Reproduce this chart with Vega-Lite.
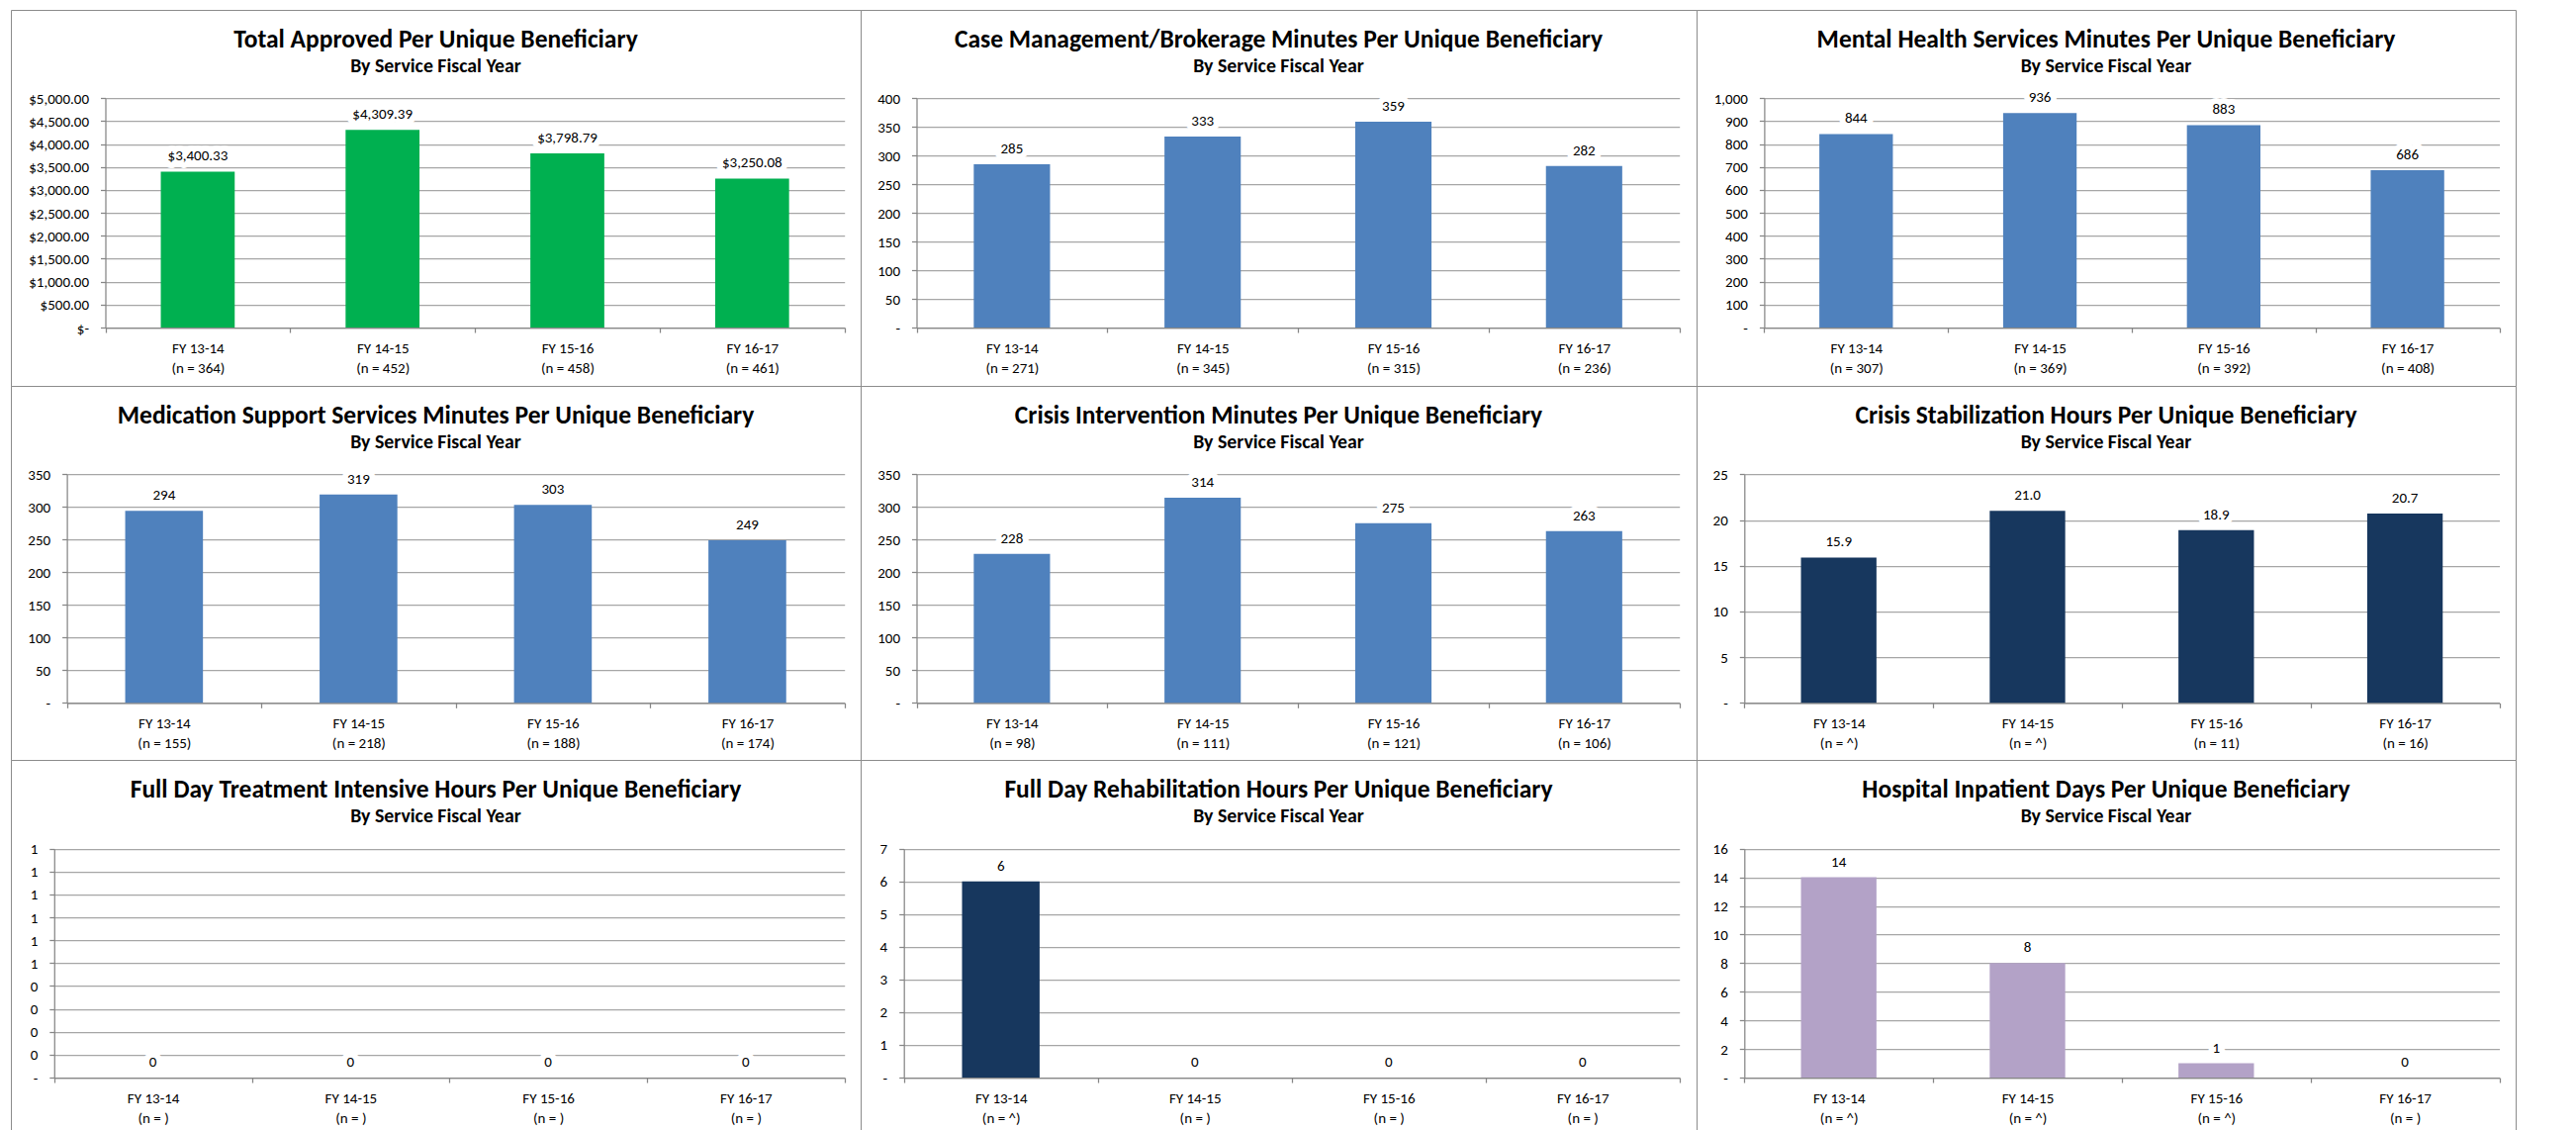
{
  "$schema": "https://vega.github.io/schema/vega-lite/v6.json",
  "padding": {"left": 10, "top": 9, "right": 0, "bottom": 0},
  "background": "white",
  "datasets": {
    "p1": [
      {"label": "FY 13-14\n(n = 364)", "value": 3400.33},
      {"label": "FY 14-15\n(n = 452)", "value": 4309.39},
      {"label": "FY 15-16\n(n = 458)", "value": 3798.79},
      {"label": "FY 16-17\n(n = 461)", "value": 3250.08}
    ],
    "p2": [
      {"label": "FY 13-14\n(n = 271)", "value": 285},
      {"label": "FY 14-15\n(n = 345)", "value": 333},
      {"label": "FY 15-16\n(n = 315)", "value": 359},
      {"label": "FY 16-17\n(n = 236)", "value": 282}
    ],
    "p3": [
      {"label": "FY 13-14\n(n = 307)", "value": 844},
      {"label": "FY 14-15\n(n = 369)", "value": 936},
      {"label": "FY 15-16\n(n = 392)", "value": 883},
      {"label": "FY 16-17\n(n = 408)", "value": 686}
    ],
    "p4": [
      {"label": "FY 13-14\n(n = 155)", "value": 294},
      {"label": "FY 14-15\n(n = 218)", "value": 319},
      {"label": "FY 15-16\n(n = 188)", "value": 303},
      {"label": "FY 16-17\n(n = 174)", "value": 249}
    ],
    "p5": [
      {"label": "FY 13-14\n(n = 98)", "value": 228},
      {"label": "FY 14-15\n(n = 111)", "value": 314},
      {"label": "FY 15-16\n(n = 121)", "value": 275},
      {"label": "FY 16-17\n(n = 106)", "value": 263}
    ],
    "p6": [
      {"label": "FY 13-14\n(n = ^)", "value": 15.9},
      {"label": "FY 14-15\n(n = ^)", "value": 21.0},
      {"label": "FY 15-16\n(n = 11)", "value": 18.9},
      {"label": "FY 16-17\n(n = 16)", "value": 20.7}
    ],
    "p7": [
      {"label": "FY 13-14\n(n = )", "value": 0},
      {"label": "FY 14-15\n(n = )", "value": 0},
      {"label": "FY 15-16\n(n = )", "value": 0},
      {"label": "FY 16-17\n(n = )", "value": 0}
    ],
    "p8": [
      {"label": "FY 13-14\n(n = ^)", "value": 6},
      {"label": "FY 14-15\n(n = )", "value": 0},
      {"label": "FY 15-16\n(n = )", "value": 0},
      {"label": "FY 16-17\n(n = )", "value": 0}
    ],
    "p9": [
      {"label": "FY 13-14\n(n = ^)", "value": 14},
      {"label": "FY 14-15\n(n = ^)", "value": 8},
      {"label": "FY 15-16\n(n = ^)", "value": 1},
      {"label": "FY 16-17\n(n = )", "value": 0}
    ]
  },
  "columns": 3,
  "spacing": 0,
  "bounds": "flush",
  "concat": [
    {
      "width": 859, "height": 380,
      "data": {"name": "p1"},
      "title": {"text": "Total Approved Per Unique Beneficiary", "subtitle": "By Service Fiscal Year"},
      "encoding": {
        "x": {"field": "label", "type": "nominal", "sort": null, "scale": {"range": [95.5, 842.7], "paddingInner": 0, "paddingOuter": 0}, "axis": {"offset": -59}},
        "y": {"field": "value", "type": "quantitative", "scale": {"domain": [0, 5000], "range": [321, 89.3], "nice": false}, "axis": {"offset": -95.5, "values": [0, 500, 1000, 1500, 2000, 2500, 3000, 3500, 4000, 4500, 5000], "labelExpr": "datum.value == 0 ? '$-\u2007' : format(datum.value, '$,.2f')"}}
      },
      "layer": [
        {"mark": {"type": "bar", "width": {"band": 0.4}, "color": "#00B050"}},
        {"mark": {"type": "text", "dy": -16, "stroke": "white", "strokeWidth": 12, "strokeJoin": "round", "fill": "white"}, "encoding": {"text": {"field": "value", "type": "quantitative", "format": "$,.2f"}}},
        {"mark": {"type": "text", "dy": -16, "fill": "black"}, "encoding": {"text": {"field": "value", "type": "quantitative", "format": "$,.2f"}}}
      ]
    },
    {
      "width": 845, "height": 380,
      "data": {"name": "p2"},
      "title": {"text": "Case Management/Brokerage Minutes Per Unique Beneficiary", "subtitle": "By Service Fiscal Year"},
      "encoding": {
        "x": {"field": "label", "type": "nominal", "sort": null, "scale": {"range": [56.5, 827.7], "paddingInner": 0, "paddingOuter": 0}, "axis": {"offset": -59}},
        "y": {"field": "value", "type": "quantitative", "scale": {"domain": [0, 400], "range": [321, 89.3], "nice": false}, "axis": {"offset": -56.5, "values": [0, 50, 100, 150, 200, 250, 300, 350, 400], "labelExpr": "datum.value == 0 ? '-\u2007' : format(datum.value, ',')"}}
      },
      "layer": [
        {"mark": {"type": "bar", "width": {"band": 0.4}, "color": "#4F81BD"}},
        {"mark": {"type": "text", "dy": -16, "stroke": "white", "strokeWidth": 12, "strokeJoin": "round", "fill": "white"}, "encoding": {"text": {"field": "value", "type": "quantitative", "format": ",.0f"}}},
        {"mark": {"type": "text", "dy": -16, "fill": "black"}, "encoding": {"text": {"field": "value", "type": "quantitative", "format": ",.0f"}}}
      ]
    },
    {
      "width": 828, "height": 380,
      "data": {"name": "p3"},
      "title": {"text": "Mental Health Services Minutes Per Unique Beneficiary", "subtitle": "By Service Fiscal Year"},
      "encoding": {
        "x": {"field": "label", "type": "nominal", "sort": null, "scale": {"range": [68.4, 811.5], "paddingInner": 0, "paddingOuter": 0}, "axis": {"offset": -59}},
        "y": {"field": "value", "type": "quantitative", "scale": {"domain": [0, 1000], "range": [321, 89.3], "nice": false}, "axis": {"offset": -68.4, "values": [0, 100, 200, 300, 400, 500, 600, 700, 800, 900, 1000], "labelExpr": "datum.value == 0 ? '-\u2007' : format(datum.value, ',')"}}
      },
      "layer": [
        {"mark": {"type": "bar", "width": {"band": 0.4}, "color": "#4F81BD"}},
        {"mark": {"type": "text", "dy": -16, "stroke": "white", "strokeWidth": 12, "strokeJoin": "round", "fill": "white"}, "encoding": {"text": {"field": "value", "type": "quantitative", "format": ",.0f"}}},
        {"mark": {"type": "text", "dy": -16, "fill": "black"}, "encoding": {"text": {"field": "value", "type": "quantitative", "format": ",.0f"}}}
      ]
    },
    {
      "width": 859, "height": 378,
      "data": {"name": "p4"},
      "title": {"text": "Medication Support Services Minutes Per Unique Beneficiary", "subtitle": "By Service Fiscal Year"},
      "encoding": {
        "x": {"field": "label", "type": "nominal", "sort": null, "scale": {"range": [56.6, 842.7], "paddingInner": 0, "paddingOuter": 0}, "axis": {"offset": -57.7}},
        "y": {"field": "value", "type": "quantitative", "scale": {"domain": [0, 350], "range": [320.3, 89.3], "nice": false}, "axis": {"offset": -56.6, "values": [0, 50, 100, 150, 200, 250, 300, 350], "labelExpr": "datum.value == 0 ? '-\u2007' : format(datum.value, ',')"}}
      },
      "layer": [
        {"mark": {"type": "bar", "width": {"band": 0.4}, "color": "#4F81BD"}},
        {"mark": {"type": "text", "dy": -16, "stroke": "white", "strokeWidth": 12, "strokeJoin": "round", "fill": "white"}, "encoding": {"text": {"field": "value", "type": "quantitative", "format": ",.0f"}}},
        {"mark": {"type": "text", "dy": -16, "fill": "black"}, "encoding": {"text": {"field": "value", "type": "quantitative", "format": ",.0f"}}}
      ]
    },
    {
      "width": 845, "height": 378,
      "data": {"name": "p5"},
      "title": {"text": "Crisis Intervention Minutes Per Unique Beneficiary", "subtitle": "By Service Fiscal Year"},
      "encoding": {
        "x": {"field": "label", "type": "nominal", "sort": null, "scale": {"range": [56.5, 827.7], "paddingInner": 0, "paddingOuter": 0}, "axis": {"offset": -57.7}},
        "y": {"field": "value", "type": "quantitative", "scale": {"domain": [0, 350], "range": [320.3, 89.3], "nice": false}, "axis": {"offset": -56.5, "values": [0, 50, 100, 150, 200, 250, 300, 350], "labelExpr": "datum.value == 0 ? '-\u2007' : format(datum.value, ',')"}}
      },
      "layer": [
        {"mark": {"type": "bar", "width": {"band": 0.4}, "color": "#4F81BD"}},
        {"mark": {"type": "text", "dy": -16, "stroke": "white", "strokeWidth": 12, "strokeJoin": "round", "fill": "white"}, "encoding": {"text": {"field": "value", "type": "quantitative", "format": ",.0f"}}},
        {"mark": {"type": "text", "dy": -16, "fill": "black"}, "encoding": {"text": {"field": "value", "type": "quantitative", "format": ",.0f"}}}
      ]
    },
    {
      "width": 828, "height": 378,
      "data": {"name": "p6"},
      "title": {"text": "Crisis Stabilization Hours Per Unique Beneficiary", "subtitle": "By Service Fiscal Year"},
      "encoding": {
        "x": {"field": "label", "type": "nominal", "sort": null, "scale": {"range": [48.3, 811.5], "paddingInner": 0, "paddingOuter": 0}, "axis": {"offset": -57.7}},
        "y": {"field": "value", "type": "quantitative", "scale": {"domain": [0, 25], "range": [320.3, 89.3], "nice": false}, "axis": {"offset": -48.3, "values": [0, 5, 10, 15, 20, 25], "labelExpr": "datum.value == 0 ? '-\u2007' : format(datum.value, ',')"}}
      },
      "layer": [
        {"mark": {"type": "bar", "width": {"band": 0.4}, "color": "#17375E"}},
        {"mark": {"type": "text", "dy": -16, "stroke": "white", "strokeWidth": 12, "strokeJoin": "round", "fill": "white"}, "encoding": {"text": {"field": "value", "type": "quantitative", "format": ".1f"}}},
        {"mark": {"type": "text", "dy": -16, "fill": "black"}, "encoding": {"text": {"field": "value", "type": "quantitative", "format": ".1f"}}}
      ]
    },
    {
      "width": 859, "height": 376,
      "data": {"name": "p7"},
      "title": {"text": "Full Day Treatment Intensive Hours Per Unique Beneficiary", "subtitle": "By Service Fiscal Year"},
      "encoding": {
        "x": {"field": "label", "type": "nominal", "sort": null, "scale": {"range": [43.8, 842.7], "paddingInner": 0, "paddingOuter": 0}, "axis": {"offset": -55}},
        "y": {"field": "value", "type": "quantitative", "scale": {"domain": [0, 1], "range": [321, 89.7], "nice": false}, "axis": {"offset": -43.8, "values": [0, 0.1, 0.2, 0.3, 0.4, 0.5, 0.6, 0.7, 0.8, 0.9, 1], "labelExpr": "datum.value == 0 ? '-\u2007' : format(datum.value, '.0f')"}}
      },
      "layer": [
        {"mark": {"type": "bar", "width": {"band": 0.4}, "color": "#4F81BD"}},
        {"mark": {"type": "text", "dy": -16, "stroke": "white", "strokeWidth": 12, "strokeJoin": "round", "fill": "white"}, "encoding": {"text": {"field": "value", "type": "quantitative", "format": ",.0f"}}},
        {"mark": {"type": "text", "dy": -16, "fill": "black"}, "encoding": {"text": {"field": "value", "type": "quantitative", "format": ",.0f"}}}
      ]
    },
    {
      "width": 845, "height": 376,
      "data": {"name": "p8"},
      "title": {"text": "Full Day Rehabilitation Hours Per Unique Beneficiary", "subtitle": "By Service Fiscal Year"},
      "encoding": {
        "x": {"field": "label", "type": "nominal", "sort": null, "scale": {"range": [43.7, 827.7], "paddingInner": 0, "paddingOuter": 0}, "axis": {"offset": -55}},
        "y": {"field": "value", "type": "quantitative", "scale": {"domain": [0, 7], "range": [321, 89.7], "nice": false}, "axis": {"offset": -43.7, "values": [0, 1, 2, 3, 4, 5, 6, 7], "labelExpr": "datum.value == 0 ? '-\u2007' : format(datum.value, ',')"}}
      },
      "layer": [
        {"mark": {"type": "bar", "width": {"band": 0.4}, "color": "#17375E"}},
        {"mark": {"type": "text", "dy": -16, "stroke": "white", "strokeWidth": 12, "strokeJoin": "round", "fill": "white"}, "encoding": {"text": {"field": "value", "type": "quantitative", "format": ",.0f"}}},
        {"mark": {"type": "text", "dy": -16, "fill": "black"}, "encoding": {"text": {"field": "value", "type": "quantitative", "format": ",.0f"}}}
      ]
    },
    {
      "width": 828, "height": 376,
      "data": {"name": "p9"},
      "title": {"text": "Hospital Inpatient Days Per Unique Beneficiary", "subtitle": "By Service Fiscal Year"},
      "encoding": {
        "x": {"field": "label", "type": "nominal", "sort": null, "scale": {"range": [48.3, 811.5], "paddingInner": 0, "paddingOuter": 0}, "axis": {"offset": -55}},
        "y": {"field": "value", "type": "quantitative", "scale": {"domain": [0, 16], "range": [321, 89.7], "nice": false}, "axis": {"offset": -48.3, "values": [0, 2, 4, 6, 8, 10, 12, 14, 16], "labelExpr": "datum.value == 0 ? '-\u2007' : format(datum.value, ',')"}}
      },
      "layer": [
        {"mark": {"type": "bar", "width": {"band": 0.4}, "color": "#B3A2C7"}},
        {"mark": {"type": "text", "dy": -16, "stroke": "white", "strokeWidth": 12, "strokeJoin": "round", "fill": "white"}, "encoding": {"text": {"field": "value", "type": "quantitative", "format": ",.0f"}}},
        {"mark": {"type": "text", "dy": -16, "fill": "black"}, "encoding": {"text": {"field": "value", "type": "quantitative", "format": ",.0f"}}}
      ]
    }
  ],
  "config": {
    "font": "Carlito, Lato, sans-serif",
    "view": {"stroke": "#8c8c8c", "strokeWidth": 1},
    "axis": {
      "title": null,
      "labelFont": "Carlito, Lato, sans-serif",
      "labelFontSize": 15,
      "labelColor": "#000000",
      "domainColor": "#868686",
      "domainWidth": 1.25,
      "tickColor": "#868686",
      "tickWidth": 1.25,
      "tickSize": 5,
      "gridColor": "#a6a6a6",
      "gridWidth": 1.25
    },
    "axisX": {
      "grid": false,
      "labelAngle": 0,
      "tickBand": "extent",
      "labelPadding": 8,
      "labelLineHeight": 20,
      "labelExpr": "split(datum.label, '\\n')"
    },
    "axisY": {"grid": true, "labelPadding": 12},
    "text": {"font": "Carlito, Lato, sans-serif", "fontSize": 15, "baseline": "middle", "align": "center"},
    "title": {
      "font": "Carlito, Lato, sans-serif",
      "fontSize": 25.5,
      "fontWeight": "bold",
      "color": "#000000",
      "subtitleFont": "Carlito, Lato, sans-serif",
      "subtitleFontSize": 19.8,
      "subtitleFontWeight": "bold",
      "subtitleColor": "#000000",
      "subtitlePadding": 4,
      "anchor": "middle",
      "frame": "group",
      "offset": -67
    }
  }
}
